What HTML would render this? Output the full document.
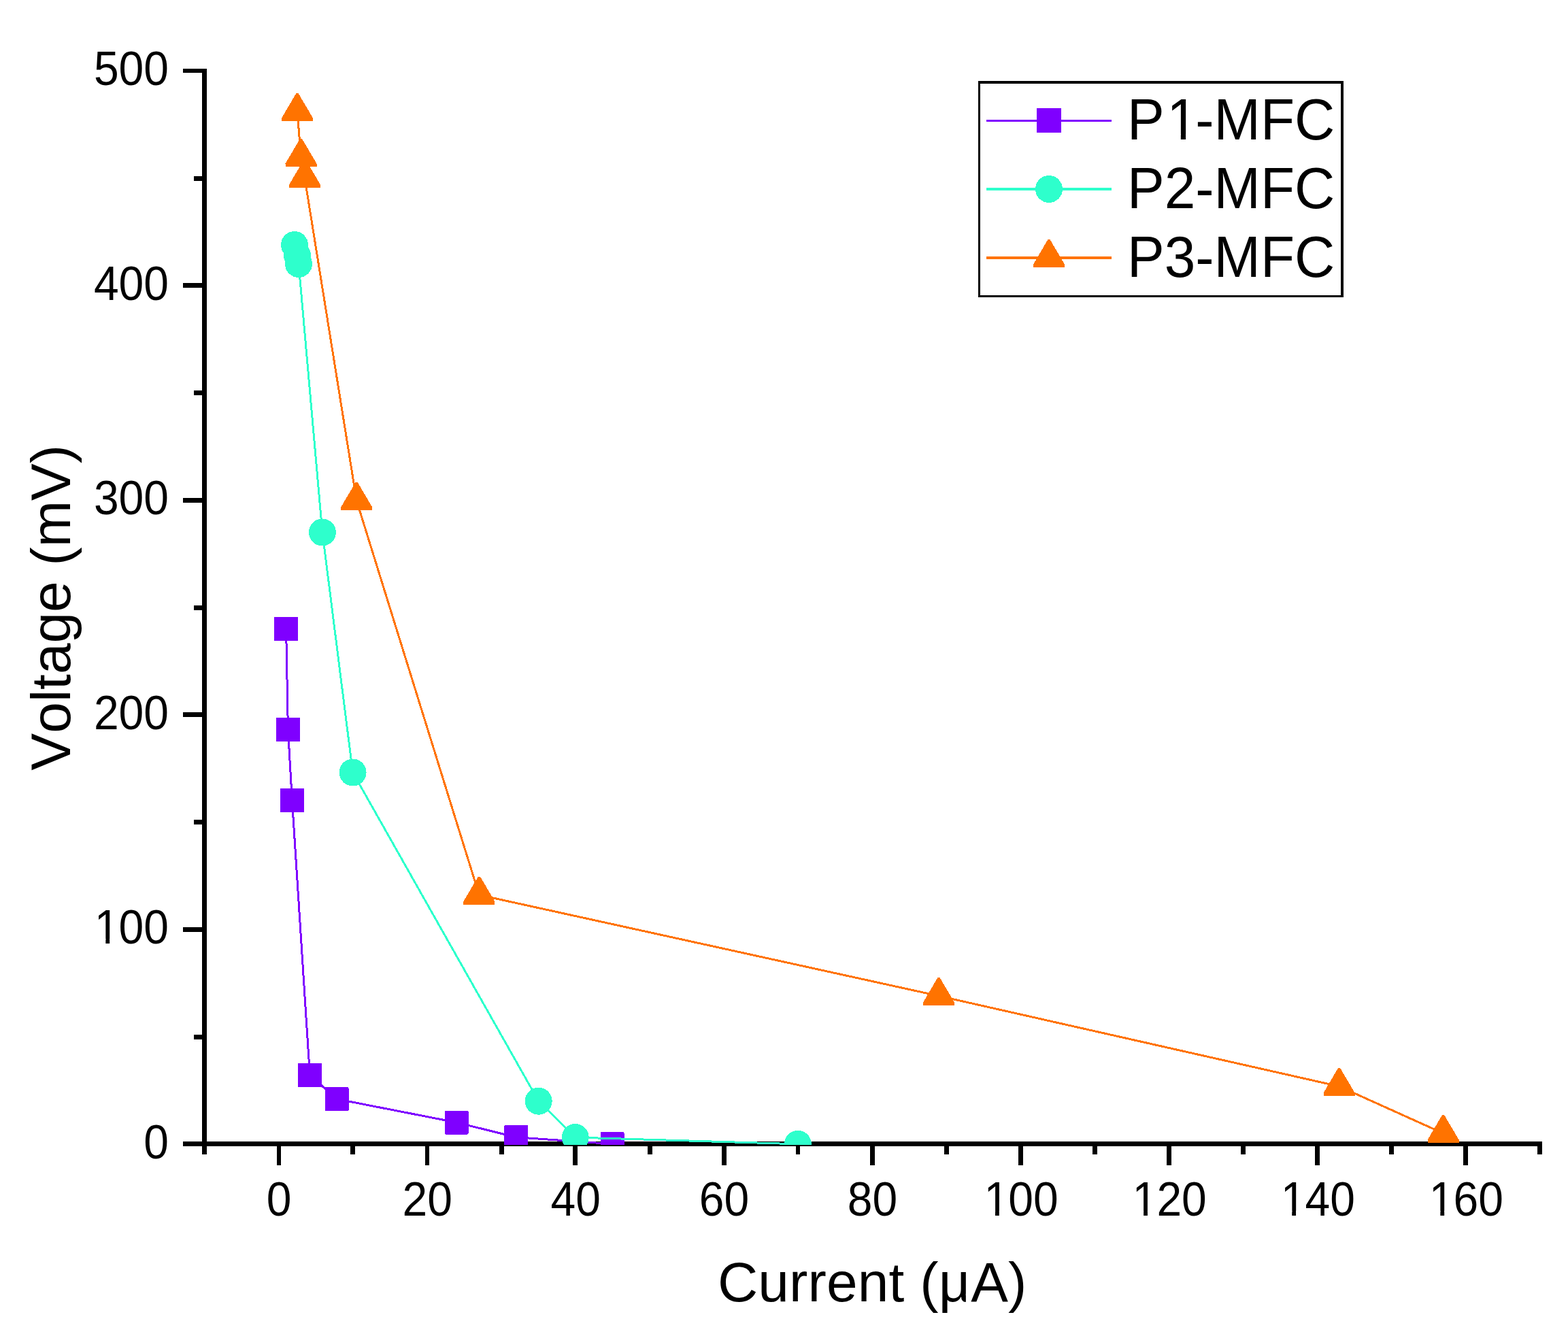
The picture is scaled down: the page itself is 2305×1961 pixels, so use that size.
<!DOCTYPE html>
<html lang="en"><head><meta charset="utf-8"><title>Voltage (mV) vs Current (µA)</title>
<style>
html,body{margin:0;padding:0;background:#fff;}
body{width:2305px;height:1961px;overflow:hidden;position:relative;}
svg{display:block;}
text{font-family:"Liberation Sans",Arial,Helvetica,sans-serif;fill:#000;font-kerning:none;}
.tk{font-size:66px;}
.lg{font-size:82px;}
.tt{font-size:82px;}
</style></head><body>
<svg width="2305" height="1961" viewBox="0 0 2305 1961">
<rect x="0" y="0" width="2305" height="1961" fill="#ffffff"/>
<g fill="#000" shape-rendering="crispEdges">
<rect x="297" y="101" width="7" height="1596"/>
<rect x="269" y="1678" width="1998" height="7"/>
<rect x="269" y="1363" width="30" height="7"/>
<rect x="269" y="1047" width="30" height="7"/>
<rect x="269" y="732" width="30" height="7"/>
<rect x="269" y="416" width="30" height="7"/>
<rect x="269" y="101" width="30" height="6"/>
<rect x="285" y="1521" width="14" height="7"/>
<rect x="285" y="1205" width="14" height="7"/>
<rect x="285" y="890" width="14" height="7"/>
<rect x="285" y="574" width="14" height="7"/>
<rect x="285" y="259" width="14" height="7"/>
<rect x="407" y="1683" width="6" height="30"/>
<rect x="625" y="1683" width="6" height="30"/>
<rect x="842" y="1683" width="7" height="30"/>
<rect x="1061" y="1683" width="7" height="30"/>
<rect x="1279" y="1683" width="7" height="30"/>
<rect x="1497" y="1683" width="7" height="30"/>
<rect x="1715" y="1683" width="7" height="30"/>
<rect x="1933" y="1683" width="7" height="30"/>
<rect x="2151" y="1683" width="7" height="30"/>
<rect x="515" y="1683" width="7" height="14"/>
<rect x="734" y="1683" width="7" height="14"/>
<rect x="952" y="1683" width="7" height="14"/>
<rect x="1170" y="1683" width="6" height="14"/>
<rect x="1388" y="1683" width="7" height="14"/>
<rect x="1606" y="1683" width="7" height="14"/>
<rect x="1824" y="1683" width="7" height="14"/>
<rect x="2042" y="1683" width="7" height="14"/>
<rect x="2260" y="1683" width="7" height="14"/>
</g>
<g transform="translate(211.29,1702.80) scale(1,1.06)"><text class="tk">0</text></g>
<g transform="translate(137.88,1386.80) scale(1,1.06)"><text class="tk" dx="0.85 -0.85">100</text><g fill="#fff"><rect x="4.38" y="-6.43" width="13.07" height="7.93"/><rect x="23.28" y="-6.43" width="12.55" height="7.93"/></g></g>
<g transform="translate(137.88,1071.80) scale(1,1.06)"><text class="tk">200</text></g>
<g transform="translate(137.88,755.80) scale(1,1.06)"><text class="tk">300</text></g>
<g transform="translate(137.88,440.80) scale(1,1.06)"><text class="tk">400</text></g>
<g transform="translate(137.88,124.80) scale(1,1.06)"><text class="tk">500</text></g>
<g transform="translate(391.71,1786.60) scale(1,1.06)"><text class="tk">0</text></g>
<g transform="translate(591.47,1786.60) scale(1,1.06)"><text class="tk">20</text></g>
<g transform="translate(809.58,1786.60) scale(1,1.06)"><text class="tk">40</text></g>
<g transform="translate(1027.69,1786.60) scale(1,1.06)"><text class="tk">60</text></g>
<g transform="translate(1245.80,1786.60) scale(1,1.06)"><text class="tk">80</text></g>
<g transform="translate(1445.56,1786.60) scale(1,1.06)"><text class="tk" dx="0.85 -0.85">100</text><g fill="#fff"><rect x="4.38" y="-6.43" width="13.07" height="7.93"/><rect x="23.28" y="-6.43" width="12.55" height="7.93"/></g></g>
<g transform="translate(1663.67,1786.60) scale(1,1.06)"><text class="tk" dx="0.85 -0.85">120</text><g fill="#fff"><rect x="4.38" y="-6.43" width="13.07" height="7.93"/><rect x="23.28" y="-6.43" width="12.55" height="7.93"/></g></g>
<g transform="translate(1881.78,1786.60) scale(1,1.06)"><text class="tk" dx="0.85 -0.85">140</text><g fill="#fff"><rect x="4.38" y="-6.43" width="13.07" height="7.93"/><rect x="23.28" y="-6.43" width="12.55" height="7.93"/></g></g>
<g transform="translate(2099.90,1786.60) scale(1,1.06)"><text class="tk" dx="0.85 -0.85">160</text><g fill="#fff"><rect x="4.38" y="-6.43" width="13.07" height="7.93"/><rect x="23.28" y="-6.43" width="12.55" height="7.93"/></g></g>
<defs><clipPath id="plot"><rect x="300" y="100" width="1968" height="1583"/></clipPath></defs>
<g clip-path="url(#plot)" shape-rendering="crispEdges">
<polyline points="420.6,924.4 423.4,1072.5 429.4,1176.5 455.5,1580.5 495.0,1615.6 671.0,1650.0 758.6,1671.7 900.0,1681.7" fill="none" stroke="#7F00FF" stroke-width="3"/>
<rect x="403.1" y="906.9" width="35" height="35" rx="1.5" fill="#7F00FF"/>
<rect x="405.9" y="1055.0" width="35" height="35" rx="1.5" fill="#7F00FF"/>
<rect x="411.9" y="1159.0" width="35" height="35" rx="1.5" fill="#7F00FF"/>
<rect x="438.0" y="1563.0" width="35" height="35" rx="1.5" fill="#7F00FF"/>
<rect x="477.5" y="1598.1" width="35" height="35" rx="1.5" fill="#7F00FF"/>
<rect x="653.5" y="1632.5" width="35" height="35" rx="1.5" fill="#7F00FF"/>
<rect x="741.1" y="1654.2" width="35" height="35" rx="1.5" fill="#7F00FF"/>
<rect x="882.5" y="1664.2" width="35" height="35" rx="1.5" fill="#7F00FF"/>
<polyline points="433.0,360.0 437.0,375.5 439.0,388.0 473.9,782.5 518.6,1135.5 791.7,1618.7 845.7,1672.0 1172.9,1681.8" fill="none" stroke="#2EFFCC" stroke-width="3"/>
<circle cx="433.0" cy="360.0" r="20" fill="#2EFFCC"/>
<circle cx="437.0" cy="375.5" r="20" fill="#2EFFCC"/>
<circle cx="439.0" cy="388.0" r="20" fill="#2EFFCC"/>
<circle cx="473.9" cy="782.5" r="20" fill="#2EFFCC"/>
<circle cx="518.6" cy="1135.5" r="20" fill="#2EFFCC"/>
<circle cx="791.7" cy="1618.7" r="20" fill="#2EFFCC"/>
<circle cx="845.7" cy="1672.0" r="20" fill="#2EFFCC"/>
<circle cx="1172.9" cy="1681.8" r="20" fill="#2EFFCC"/>
<polyline points="437.0,164.0 442.5,231.0 448.0,262.0 524.2,736.0 704.4,1315.5 1380.0,1464.0 1968.6,1597.0 2121.6,1666.0" fill="none" stroke="#FF7300" stroke-width="3"/>
<polygon points="435.5,137.0 438.5,137.0 460.0,173.5 460.0,178.0 414.0,178.0 414.0,173.5" fill="#FF7300"/>
<polygon points="441.0,204.0 444.0,204.0 465.5,240.5 465.5,245.0 419.5,245.0 419.5,240.5" fill="#FF7300"/>
<polygon points="446.5,235.0 449.5,235.0 471.0,271.5 471.0,276.0 425.0,276.0 425.0,271.5" fill="#FF7300"/>
<polygon points="522.7,709.0 525.7,709.0 547.2,745.5 547.2,750.0 501.2,750.0 501.2,745.5" fill="#FF7300"/>
<polygon points="702.9,1288.5 705.9,1288.5 727.4,1325.0 727.4,1329.5 681.4,1329.5 681.4,1325.0" fill="#FF7300"/>
<polygon points="1378.5,1437.0 1381.5,1437.0 1403.0,1473.5 1403.0,1478.0 1357.0,1478.0 1357.0,1473.5" fill="#FF7300"/>
<polygon points="1967.1,1570.0 1970.1,1570.0 1991.6,1606.5 1991.6,1611.0 1945.6,1611.0 1945.6,1606.5" fill="#FF7300"/>
<polygon points="2120.1,1639.0 2123.1,1639.0 2144.6,1675.5 2144.6,1680.0 2098.6,1680.0 2098.6,1675.5" fill="#FF7300"/>
</g>
<g shape-rendering="crispEdges">
<rect x="1438" y="119" width="537" height="318" fill="#fff"/>
<rect x="1438" y="119" width="537" height="4" fill="#000"/>
<rect x="1438" y="434" width="537" height="3" fill="#000"/>
<rect x="1438" y="119" width="3" height="318" fill="#000"/>
<rect x="1971" y="119" width="4" height="318" fill="#000"/>
<rect x="1450" y="176" width="184" height="3" fill="#7F00FF"/>
<rect x="1524" y="159" width="36" height="36" rx="1.5" fill="#7F00FF"/>
<rect x="1450" y="276" width="184" height="4" fill="#2EFFCC"/>
<circle cx="1542.0" cy="278.0" r="20" fill="#2EFFCC"/>
<rect x="1450" y="377" width="184" height="4" fill="#FF7300"/>
<polygon points="1540.5,352.0 1543.5,352.0 1565.0,388.5 1565.0,393.0 1519.0,393.0 1519.0,388.5" fill="#FF7300"/>
</g>
<g transform="translate(1657.00,205.00) scale(1,1.05)"><text class="lg" dx="0 3.5 -3.5">P1-MFC</text><g fill="#fff"><rect x="62.94" y="-7.63" width="15.87" height="9.13"/><rect x="86.06" y="-7.63" width="15.23" height="9.13"/></g></g>
<g transform="translate(1657.00,306.00) scale(1,1.05)"><text class="lg">P2-MFC</text></g>
<g transform="translate(1657.00,407.00) scale(1,1.05)"><text class="lg">P3-MFC</text></g>
<text class="tt" x="1054.9" y="1913.0" style="letter-spacing:0.15px">Current (µA)</text>
<rect x="1419.84" y="1901.85" width="6.49" height="12.95" fill="#fff"/>
<text class="tt" transform="translate(103.2,1132.4) rotate(-90)">Voltage (mV)</text>
</svg>
</body></html>
